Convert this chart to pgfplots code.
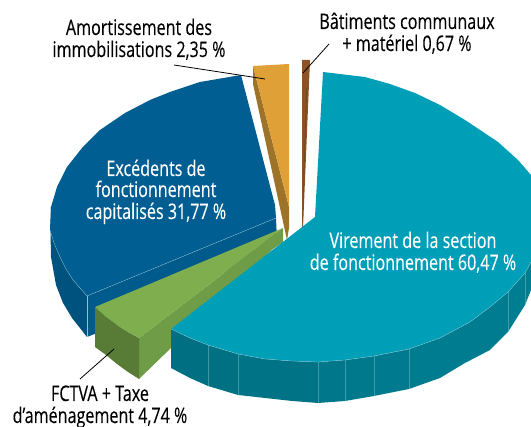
\documentclass[border=0pt]{standalone}
\usepackage{fontspec}
\usepackage{pgfplots}
\pgfplotsset{compat=1.18}
\setmainfont[FakeStretch=0.75,FakeBold=0.15]{Open Sans}
\definecolor{tealtop}{HTML}{009FB8}
\definecolor{bluetop}{HTML}{005E92}
\definecolor{bluecut}{HTML}{005A8B}
\definecolor{blueside}{HTML}{00527E}
\definecolor{greentop}{HTML}{7EAE4E}
\definecolor{greencut}{HTML}{6F9C46}
\definecolor{greenside}{HTML}{587C36}
\definecolor{ortop}{HTML}{E0A038}
\definecolor{orcut}{HTML}{9C7329}
\definecolor{brtop}{HTML}{8D5226}
\definecolor{brcut}{HTML}{6F4A20}
\definecolor{seam}{HTML}{8CC4CF}
\newcommand{\lab}[4][black]{\node[anchor=base,text=#1,inner sep=0pt,font=\fontsize{21.5}{22}\selectfont] at (axis cs:#2,#3) {#4};}
\begin{document}
\begin{tikzpicture}
\path[use as bounding box] (0,0) rectangle (531pt,427pt);
\begin{axis}[
  at={(0,0)}, anchor=south west,
  width=531pt, height=427pt, scale only axis,
  xmin=0, xmax=531, ymin=0, ymax=427, y dir=reverse,
  hide axis,
  every axis plot/.append style={no marks, line join=round},
]
% blue wedge: outer wall, cut face, top
\addplot[fill=blueside, draw=none] coordinates {(50,207) (50,230) (60,257) (73,280) (87,296) (87,337) (72,318) (63,303) (56,285) (51,257)} -- cycle;
\addplot[fill=bluecut, draw=none] coordinates {(87,296) (276,218) (277,240) (180,300) (87,337)} -- cycle;
\addplot[fill=bluetop, draw=none] coordinates {(241,75) (200,82) (170,92) (150,100) (125,113) (100,130) (82,148) (67,167) (57,187) (51,207) (50,230) (54,243) (60,257) (66,269) (73,280) (87,296) (276,218) (275,205)} -- cycle;
\addplot[seam, line width=0.3pt] coordinates {(50,230) (54,243) (60,257) (66,269) (73,280) (87,296) (276,218)};
\addplot[seam, line width=0.3pt] coordinates {(87,296) (87,337)};
% orange wedge
\addplot[fill=orcut, draw=none] coordinates {(253,66) (289,207) (289,228) (287,240) (253,84)} -- cycle;
\addplot[fill=ortop, draw=none] coordinates {(253,66) (271,65) (289,64) (289,207)} -- cycle;
% brown wedge
\addplot[fill=brtop, draw=none] coordinates {(302,60) (310,60) (303,228) (302,228)} -- cycle;
\addplot[fill=brcut, draw=none] coordinates {(306,88) (307,88) (303,218) (302.4,218)} -- cycle;
% green wedge
\addplot[fill=greencut, draw=none] coordinates {(139,338) (283,228) (283,242) (273,249) (139,379)} -- cycle;
\addplot[fill=greenside, draw=none] coordinates {(95,307) (106,317) (117,325) (128,332) (139,338) (139,379) (128,372) (117,364) (106,355) (95,347)} -- cycle;
\addplot[fill=greentop, draw=none] coordinates {(95,307) (283,228) (139,338) (128,332) (117,325) (106,317)} -- cycle;
% teal wedge wall, one facet at a time
\addplot[fill=tealtop!70!black, draw=none] coordinates {(171,329) (190,338) (208,345) (208,386) (190,378) (171,368)} -- cycle;
\addplot[fill=tealtop!71!black, draw=none] coordinates {(208,345) (238,354) (238,395) (208,386)} -- cycle;
\addplot[fill=tealtop!73!black, draw=none] coordinates {(238,354) (265,359) (292,361) (318,362) (318,403) (292,401) (265,398) (238,395)} -- cycle;
\addplot[fill=tealtop!75!black, draw=none] coordinates {(318,362) (345,360) (345,401) (318,403)} -- cycle;
\addplot[fill=tealtop!76!black, draw=none] coordinates {(345,360) (374,356) (374,396) (345,401)} -- cycle;
\addplot[fill=tealtop!77!black, draw=none] coordinates {(374,356) (409,349) (409,389) (374,396)} -- cycle;
\addplot[fill=tealtop!78!black, draw=none] coordinates {(409,349) (440,338) (470,322) (490,307) (508,292) (508,332) (490,350) (465,363) (440,378) (409,389)} -- cycle;
\addplot[fill=tealtop!79!black, draw=none] coordinates {(508,292) (525,273) (531,262) (531,290) (525,305) (508,332)} -- cycle;
\addplot[fill=tealtop, draw=none] coordinates {(323,72) (365,77) (390,84) (415,93) (440,105) (465,120) (498,142) (518,160) (531,175) (531,262) (525,273) (508,292) (490,307) (470,322) (440,338) (409,349) (374,356) (345,360) (318,362) (292,361) (265,359) (238,354) (208,345) (190,338) (171,329) (315,217)} -- cycle;
\addplot[seam, line width=0.3pt] coordinates {(171,329) (190,338) (208,345) (238,354) (265,359) (292,361) (318,362) (345,360) (374,356) (409,349) (440,338) (470,322) (490,307) (508,292) (525,273) (531,262)};
\addplot[seam, opacity=0.45, line width=0.25pt] coordinates {(208,345) (208,386)};
\addplot[seam, opacity=0.45, line width=0.25pt] coordinates {(238,354) (238,395)};
\addplot[seam, opacity=0.45, line width=0.25pt] coordinates {(318,362) (318,403)};
\addplot[seam, opacity=0.45, line width=0.25pt] coordinates {(345,360) (345,401)};
\addplot[seam, opacity=0.45, line width=0.25pt] coordinates {(374,356) (374,396)};
\addplot[seam, opacity=0.45, line width=0.25pt] coordinates {(409,349) (409,389)};
\addplot[seam, opacity=0.45, line width=0.25pt] coordinates {(508,292) (508,332)};
\addplot[seam, opacity=0.45, line width=0.25pt] coordinates {(525,273) (525,305)};
% leader lines
\addplot[black, line width=0.8pt] coordinates {(174,65) (265,79)};
\addplot[black, line width=0.8pt] coordinates {(329,44) (303,73)};
\addplot[black, line width=0.8pt] coordinates {(80,379) (114,349)};
% labels
\lab{139}{35}{Amortissement des}
\lab{139}{57}{immobilisations 2,35 \%}
\lab{407}{29}{Bâtiments communaux}
\lab{407}{51}{+ matériel 0,67 \%}
\lab[white]{156}{176}{Excédents de}
\lab[white]{156}{197}{fonctionnement}
\lab[white]{156}{219}{capitalisés 31,77 \%}
\lab[white]{413}{248}{Virement de la section}
\lab[white]{413}{270}{de fonctionnement 60,47 \%}
\lab{100}{401}{FCTVA + Taxe}
\lab{100}{423}{d\symbol{39}aménagement 4,74 \%}
\end{axis}
\end{tikzpicture}
\end{document}
